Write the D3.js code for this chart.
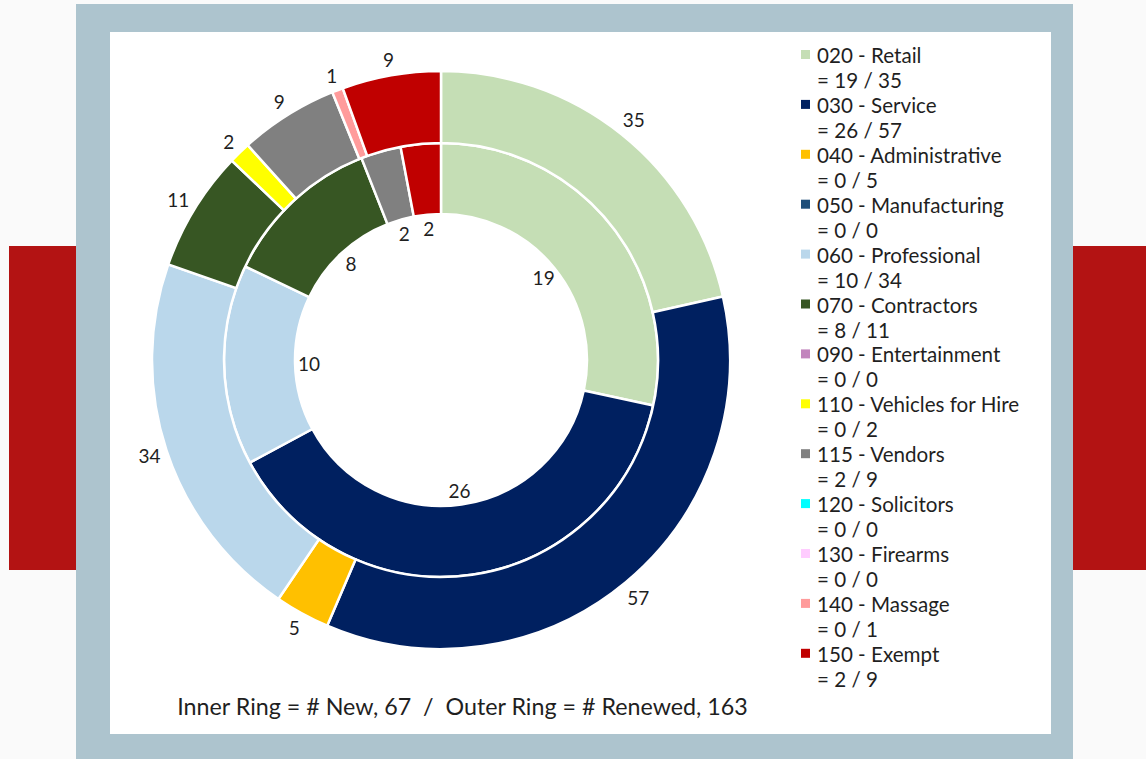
<!DOCTYPE html>
<html>
<head>
<meta charset="utf-8">
<script src="https://cdn.jsdelivr.net/npm/d3@7"></script>
<style>
  html, body { margin: 0; padding: 0; background: #fafafa; }
  svg { display: block; }
  text { font-family: Lato, "Noto Sans", sans-serif; fill: #1f1f1f; }
</style>
</head>
<body>
<svg id="chart" width="1146" height="759"></svg>
<script>
// ---- data ----
const categories = [
  "020 - Retail", "030 - Service", "040 - Administrative", "050 - Manufacturing",
  "060 - Professional", "070 - Contractors", "090 - Entertainment", "110 - Vehicles for Hire",
  "115 - Vendors", "120 - Solicitors", "130 - Firearms", "140 - Massage", "150 - Exempt"
];
const newCounts     = [19, 26, 0, 0, 10, 8, 0, 0, 2, 0, 0, 0, 2];   // inner ring
const renewedCounts = [35, 57, 5, 0, 34, 11, 0, 2, 9, 0, 0, 1, 9];  // outer ring
const colors = [
  "#c5deb5", "#002060", "#ffc000", "#1f4e79", "#bad7eb", "#375623", "#c285bd",
  "#ffff00", "#808080", "#00ffff", "#ffccff", "#ff9b9b", "#c00000"
];
const footerText = "Inner Ring = # New, " + d3.sum(newCounts) + "  /  Outer Ring = # Renewed, " + d3.sum(renewedCounts);

// ---- layout ----
const svg = d3.select("#chart");
const W = 1146, H = 759;
const cx = 441, cy = 360;
const rHole = 146, rMid = 217, rOuter = 289;

// background decorations
svg.append("rect").attr("x", 0).attr("y", 0).attr("width", W).attr("height", H).attr("fill", "#fafafa");
svg.append("rect").attr("x", 9).attr("y", 246).attr("width", 67).attr("height", 324).attr("fill", "#b31313");
svg.append("rect").attr("x", 1073).attr("y", 246).attr("width", 73).attr("height", 324).attr("fill", "#b31313");
svg.append("rect").attr("x", 76).attr("y", 4).attr("width", 997).attr("height", 755).attr("fill", "#adc4ce");
svg.append("rect").attr("x", 110).attr("y", 32).attr("width", 941).attr("height", 702).attr("fill", "#ffffff");

const pie = d3.pie().sort(null).value(d => d.v).startAngle(0).endAngle(2 * Math.PI);
const rows = categories.map((c, i) => ({ name: c, n: newCounts[i], r: renewedCounts[i], color: colors[i] }));

const g = svg.append("g").attr("transform", `translate(${cx},${cy})`);

function drawRing(values, r0, r1, cls) {
  const arcs = pie(values.map((v, i) => ({ v, i })));
  const arc = d3.arc().innerRadius(r0).outerRadius(r1);
  g.append("g").attr("class", cls).selectAll("path")
    .data(arcs.filter(a => a.data.v > 0))
    .join("path")
    .attr("d", arc)
    .attr("fill", a => colors[a.data.i])
    .attr("stroke", "#ffffff")
    .attr("stroke-width", 2.5)
    .attr("stroke-linejoin", "miter");
  return arcs.filter(a => a.data.v > 0);
}

const innerArcs = drawRing(newCounts, rHole, rMid, "inner");
const outerArcs = drawRing(renewedCounts, rMid, rOuter, "outer");

// legend
const legend = svg.append("g");
const items = legend.selectAll("g").data(rows).join("g")
  .attr("transform", (d, i) => `translate(800, ${63 + i * 49.9})`);
items.append("rect").attr("x", 1).attr("y", -13).attr("width", 9).attr("height", 9).attr("fill", d => d.color);
items.append("text").attr("x", 17).attr("y", 0).attr("font-size", 19).text(d => d.name);
items.append("text").attr("x", 17).attr("y", 25).attr("font-size", 19).text(d => "= " + d.n + " / " + d.r);

// fit legend font so the longest entry matches the reference width
let maxW = 0;
items.selectAll("text").each(function() { maxW = Math.max(maxW, this.getComputedTextLength()); });
const legendSize = Math.min(20.6, 19 * 209 / maxW);
items.selectAll("text").attr("font-size", legendSize);

const labelFont = 19;
// outer labels: just outside the ring
const outerLabels = g.append("g").selectAll("text")
  .data(outerArcs).join("text")
  .attr("font-size", labelFont)
  .attr("text-anchor", "middle")
  .attr("dominant-baseline", "central")
  .text(a => a.data.v);
outerLabels.each(function(a) {
  const bb = this.getBBox();
  const m = (a.startAngle + a.endAngle) / 2;
  const s = Math.sin(m), c = -Math.cos(m);
  const d = rOuter + 4 + Math.abs(s) * bb.width / 2 + Math.abs(c) * 11;
  d3.select(this).attr("x", s * d).attr("y", c * d);
});
// inner labels: in the hole
g.append("g").selectAll("text")
  .data(innerArcs).join("text")
  .attr("font-size", labelFont)
  .attr("text-anchor", "middle")
  .attr("dominant-baseline", "central")
  .attr("x", a => Math.sin((a.startAngle + a.endAngle) / 2) * 132)
  .attr("y", a => -Math.cos((a.startAngle + a.endAngle) / 2) * 132)
  .text(a => a.data.v);

// footer
const foot = svg.append("text")
  .attr("x", 462.5).attr("y", 715)
  .attr("text-anchor", "middle")
  .attr("font-size", 21)
  .attr("xml:space", "preserve")
  .style("white-space", "pre")
  .text(footerText);
const fw = foot.node().getComputedTextLength();
foot.attr("font-size", 21 * 571 / fw);
</script>
</body>
</html>
